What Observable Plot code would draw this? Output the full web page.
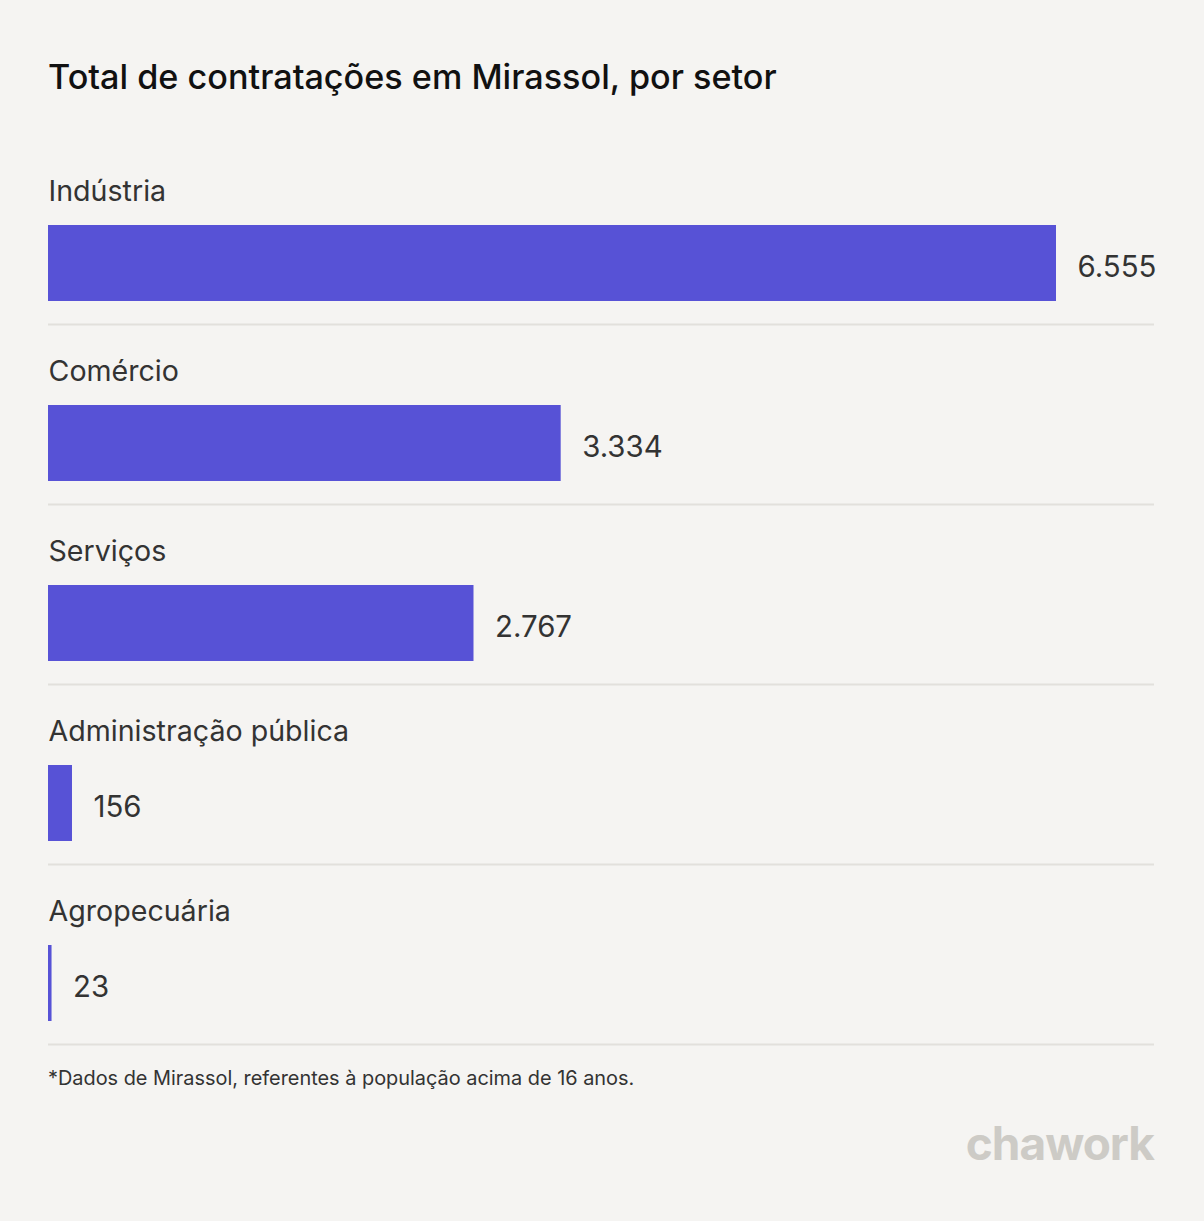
<!DOCTYPE html>
<html>
<head>
<meta charset="utf-8">
<script src="https://cdn.jsdelivr.net/npm/d3@7"></script>
<script src="https://cdn.jsdelivr.net/npm/@observablehq/plot@0.6"></script>
<style>
  html, body { margin: 0; padding: 0; background: #f5f4f2; }
  body { width: 1204px; height: 1221px; position: relative; overflow: hidden; font-family: Inter, "Noto Sans", sans-serif; }
  #title { position: absolute; left: 48px; top: 56px; font-size: 34.2px; font-weight: 500; color: #111; white-space: nowrap; }
  #chart { position: absolute; left: 0; top: 144px; }
  #note { position: absolute; left: 48px; top: 1066px; font-size: 19.9px; color: #333; white-space: nowrap; }
  #logo { position: absolute; right: 50px; top: 1115px; font-size: 46px; font-weight: 700; color: #cdcbc6; letter-spacing: -1px; }
</style>
</head>
<body>
<div id="title">Total de contratações em Mirassol, por setor</div>
<div id="chart"></div>
<div id="note">*Dados de Mirassol, referentes à população acima de 16 anos.</div>
<div id="logo">chawork</div>
<script>
const sectors = ["Indústria", "Comércio", "Serviços", "Administração pública", "Agropecuária"];
const hires = [6555, 3334, 2767, 156, 23];

const data = sectors.map((s, i) => ({sector: s, value: hires[i]}));
const fmt = d3.formatLocale({decimal: ",", thousands: ".", grouping: [3], currency: ["R$", ""]}).format(",d");

const chart = Plot.plot({
  width: 1204,
  height: 906,
  marginTop: 0,
  marginBottom: 6,
  marginLeft: 48,
  marginRight: 50,
  style: {background: "transparent", fontFamily: "Inter, 'Noto Sans', sans-serif"},
  x: {domain: [0, d3.max(hires)], range: [48, 1056], axis: null},
  y: {domain: sectors, range: [0, 900], padding: 0, axis: null},
  marks: [
    Plot.ruleY(data, {y: "sector", dy: 90, stroke: "#e2e0dc", strokeWidth: 2}),
    Plot.barX(data, {x: "value", y: "sector", fill: "#5752d6", insetTop: 81, insetBottom: 23}),
    Plot.text(data, {y: "sector", frameAnchor: "left", text: "sector", textAnchor: "start", dy: -43, fontSize: 28.6, fill: "#333"}),
    Plot.text(data, {x: "value", y: "sector", text: d => fmt(d.value), textAnchor: "start", dx: 21, dy: 33, fontSize: 29.4, fill: "#333"})
  ]
});
document.getElementById("chart").appendChild(chart);
</script>
</body>
</html>
